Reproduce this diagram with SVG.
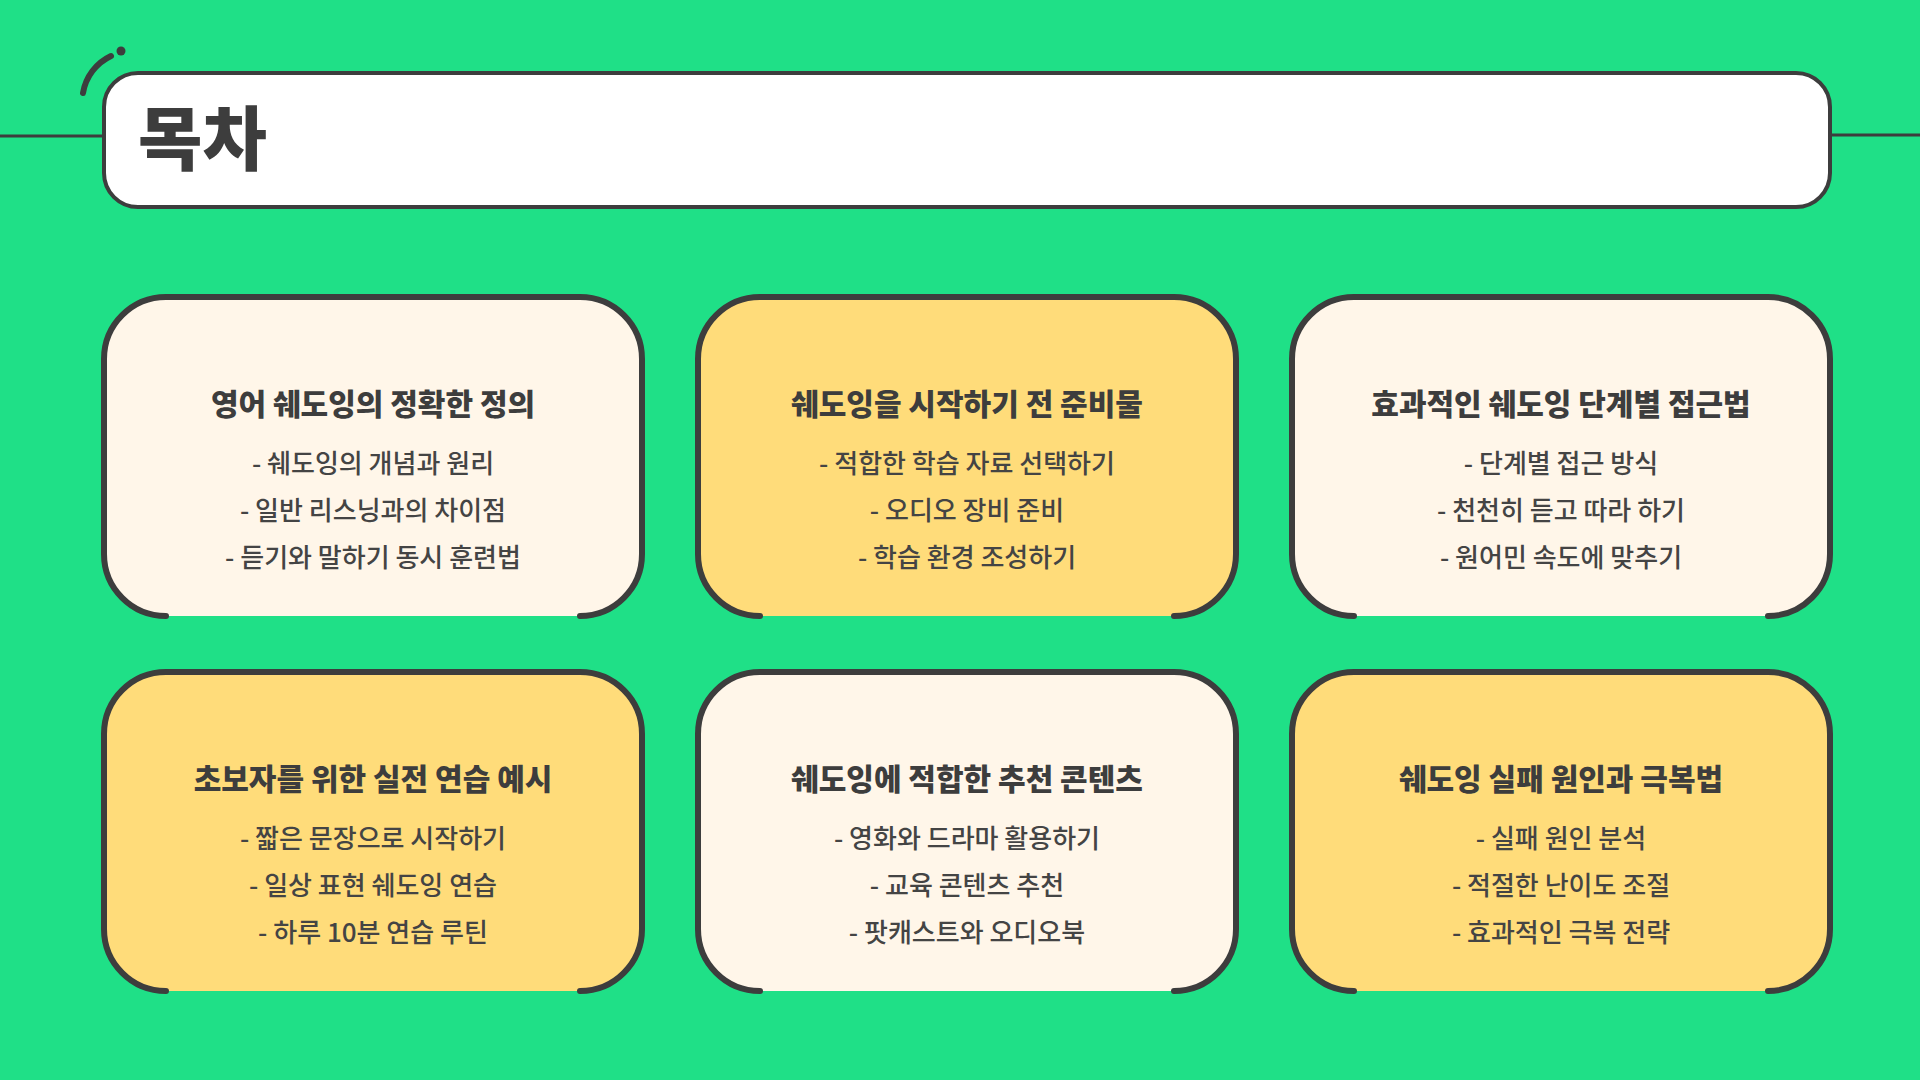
<svg xmlns="http://www.w3.org/2000/svg" width="1920" height="1080" viewBox="0 0 1920 1080">
<style>
.card{stroke:#3d3d3d;stroke-width:6;stroke-linecap:round}
.edge{fill:none;stroke:#3d3d3d;stroke-width:6;stroke-linecap:round}
.ct{font-family:"Noto Sans CJK KR","Noto Sans",sans-serif;font-weight:900;font-size:30px;fill:#3d3d3d;text-anchor:middle}
.it{font-family:"Noto Sans CJK KR","Noto Sans",sans-serif;font-weight:500;font-size:26px;fill:#444;text-anchor:middle}
.cream{fill:#fff6e9}.yel{fill:#ffdc7a}
</style>
<rect width="1920" height="1080" fill="#1fe087"/>
<g id="header">
<line x1="0" y1="136" x2="104" y2="136" stroke="#3d3d3d" stroke-width="3"/>
<line x1="1828" y1="135" x2="1920" y2="135" stroke="#3d3d3d" stroke-width="3"/>
<path d="M83,93 A50,50 0 0 1 111,56" fill="none" stroke="#3d3d3d" stroke-width="6" stroke-linecap="round"/>
<circle cx="121" cy="51" r="4.5" fill="#3d3d3d"/>
<rect x="104" y="73" width="1726" height="134" rx="34" fill="#fff" stroke="#3d3d3d" stroke-width="4"/>
<text x="138" y="165" font-family="Noto Sans CJK KR,sans-serif" font-weight="900" font-size="70" fill="#3d3d3d">목차</text>
</g>
<g id="card1" transform="translate(104,297)">
<rect width="538" height="319" rx="62" class="cream"/>
<path class="edge" d="M62,319 A62,62 0 0 1 0,257 V62 A62,62 0 0 1 62,0 H476 A62,62 0 0 1 538,62 V257 A62,62 0 0 1 476,319"/>
<text x="269" y="415" class="ct" transform="translate(0,-297)">영어 쉐도잉의 정확한 정의</text>
<text x="269" y="176" class="it">- 쉐도잉의 개념과 원리</text>
<text x="269" y="223" class="it">- 일반 리스닝과의 차이점</text>
<text x="269" y="270" class="it">- 듣기와 말하기 동시 훈련법</text>
</g>
<g id="card2" transform="translate(698,297)">
<rect width="538" height="319" rx="62" class="yel"/>
<path class="edge" d="M62,319 A62,62 0 0 1 0,257 V62 A62,62 0 0 1 62,0 H476 A62,62 0 0 1 538,62 V257 A62,62 0 0 1 476,319"/>
<text x="269" y="118" class="ct">쉐도잉을 시작하기 전 준비물</text>
<text x="269" y="176" class="it">- 적합한 학습 자료 선택하기</text>
<text x="269" y="223" class="it">- 오디오 장비 준비</text>
<text x="269" y="270" class="it">- 학습 환경 조성하기</text>
</g>
<g id="card3" transform="translate(1292,297)">
<rect width="538" height="319" rx="62" class="cream"/>
<path class="edge" d="M62,319 A62,62 0 0 1 0,257 V62 A62,62 0 0 1 62,0 H476 A62,62 0 0 1 538,62 V257 A62,62 0 0 1 476,319"/>
<text x="269" y="118" class="ct">효과적인 쉐도잉 단계별 접근법</text>
<text x="269" y="176" class="it">- 단계별 접근 방식</text>
<text x="269" y="223" class="it">- 천천히 듣고 따라 하기</text>
<text x="269" y="270" class="it">- 원어민 속도에 맞추기</text>
</g>
<g id="card4" transform="translate(104,672)">
<rect width="538" height="319" rx="62" class="yel"/>
<path class="edge" d="M62,319 A62,62 0 0 1 0,257 V62 A62,62 0 0 1 62,0 H476 A62,62 0 0 1 538,62 V257 A62,62 0 0 1 476,319"/>
<text x="269" y="118" class="ct">초보자를 위한 실전 연습 예시</text>
<text x="269" y="176" class="it">- 짧은 문장으로 시작하기</text>
<text x="269" y="223" class="it">- 일상 표현 쉐도잉 연습</text>
<text x="269" y="270" class="it">- 하루 10분 연습 루틴</text>
</g>
<g id="card5" transform="translate(698,672)">
<rect width="538" height="319" rx="62" class="cream"/>
<path class="edge" d="M62,319 A62,62 0 0 1 0,257 V62 A62,62 0 0 1 62,0 H476 A62,62 0 0 1 538,62 V257 A62,62 0 0 1 476,319"/>
<text x="269" y="118" class="ct">쉐도잉에 적합한 추천 콘텐츠</text>
<text x="269" y="176" class="it">- 영화와 드라마 활용하기</text>
<text x="269" y="223" class="it">- 교육 콘텐츠 추천</text>
<text x="269" y="270" class="it">- 팟캐스트와 오디오북</text>
</g>
<g id="card6" transform="translate(1292,672)">
<rect width="538" height="319" rx="62" class="yel"/>
<path class="edge" d="M62,319 A62,62 0 0 1 0,257 V62 A62,62 0 0 1 62,0 H476 A62,62 0 0 1 538,62 V257 A62,62 0 0 1 476,319"/>
<text x="269" y="118" class="ct">쉐도잉 실패 원인과 극복법</text>
<text x="269" y="176" class="it">- 실패 원인 분석</text>
<text x="269" y="223" class="it">- 적절한 난이도 조절</text>
<text x="269" y="270" class="it">- 효과적인 극복 전략</text>
</g>
<g id="connectors"/>
</svg>
